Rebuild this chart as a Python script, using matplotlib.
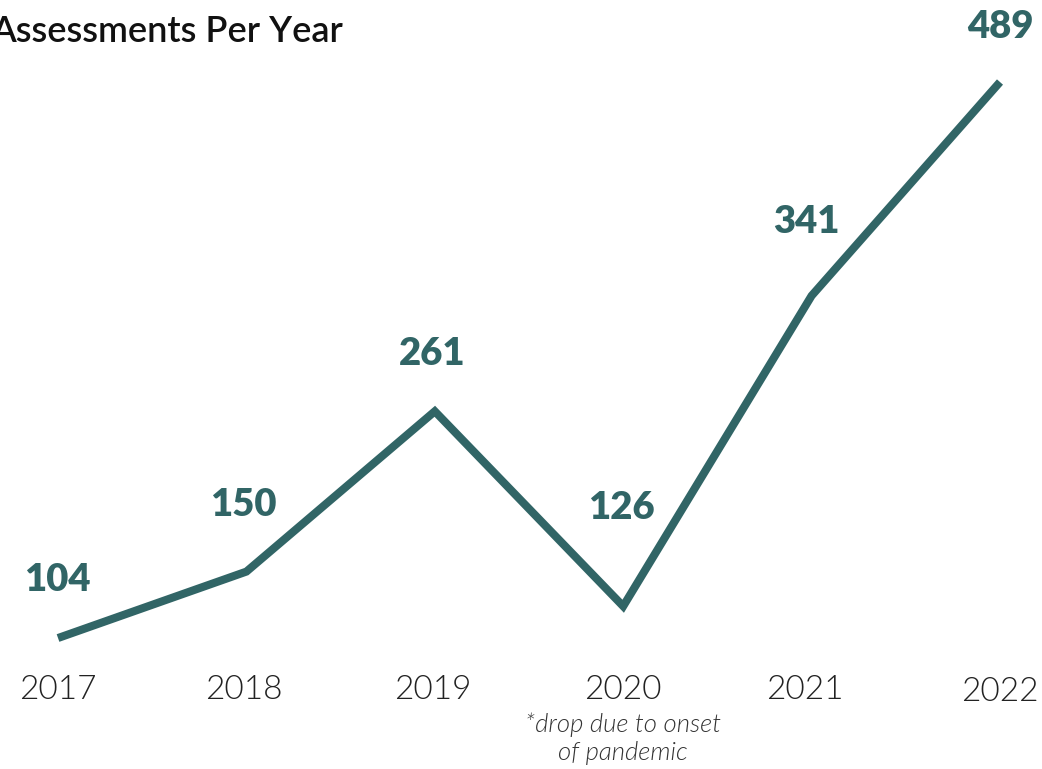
import matplotlib
matplotlib.use("Agg")
import matplotlib.pyplot as plt
import matplotlib.transforms as mtransforms

years = [2017, 2018, 2019, 2020, 2021, 2022]
values = [104, 150, 261, 126, 341, 489]
year_labels = ["2017", "2018", "2019", "2020", "2021", "2022"]
title = "Assessments Per Year"
note = "*drop due to onset\nof pandemic"

# label offsets (points) above each data point
label_dy = [-41.5, -48, -41, -70.5, -53, -39.5]
label_dx = [-0.5, -2, -2, -1, -4, 0]
year_y_px = [690, 690, 690, 690, 690, 692]
year_dx = [0, -2, -1.5, 0, -5, 0]

color = "#316566"

plt.rcParams['font.family'] = ['Lato', 'DejaVu Sans']

fig = plt.figure(figsize=(10.42, 7.69), dpi=100)
ax = fig.add_axes([0, 0, 1, 1])
ax.set_xlim(2016.692, 2022.223)
ax.set_ylim(13.3, 545.8)
ax.axis('off')

ax.plot(years, values, color=color, lw=5.8, solid_capstyle='butt', solid_joinstyle='miter')

for i, (x, v) in enumerate(zip(years, values)):
    ax.annotate(str(v), (x, v), xytext=(label_dx[i], -label_dy[i]), textcoords='offset points',
                ha='center', va='center', fontsize=27.5, fontweight=800, color=color)

trans = mtransforms.blended_transform_factory(ax.transData, fig.transFigure)
for i, x in enumerate(years):
    ax.annotate(year_labels[i], (x, 1 - year_y_px[i] / 769), xycoords=trans,
                xytext=(year_dx[i], 0), textcoords='offset points',
                ha='center', va='center', fontsize=24, fontweight=300, color='#222222')

ax.text(years[3], 1 - 739 / 769, note, transform=trans, ha='center', va='center',
        fontsize=18.5, fontweight=300, style='italic', color='#333333', linespacing=1.2)

fig.text(343 / 1042, 1 - 31 / 769, title, ha='right', va='center', fontsize=26,
         fontweight=600, color='#111111')

fig.savefig("out.png", dpi=100)
